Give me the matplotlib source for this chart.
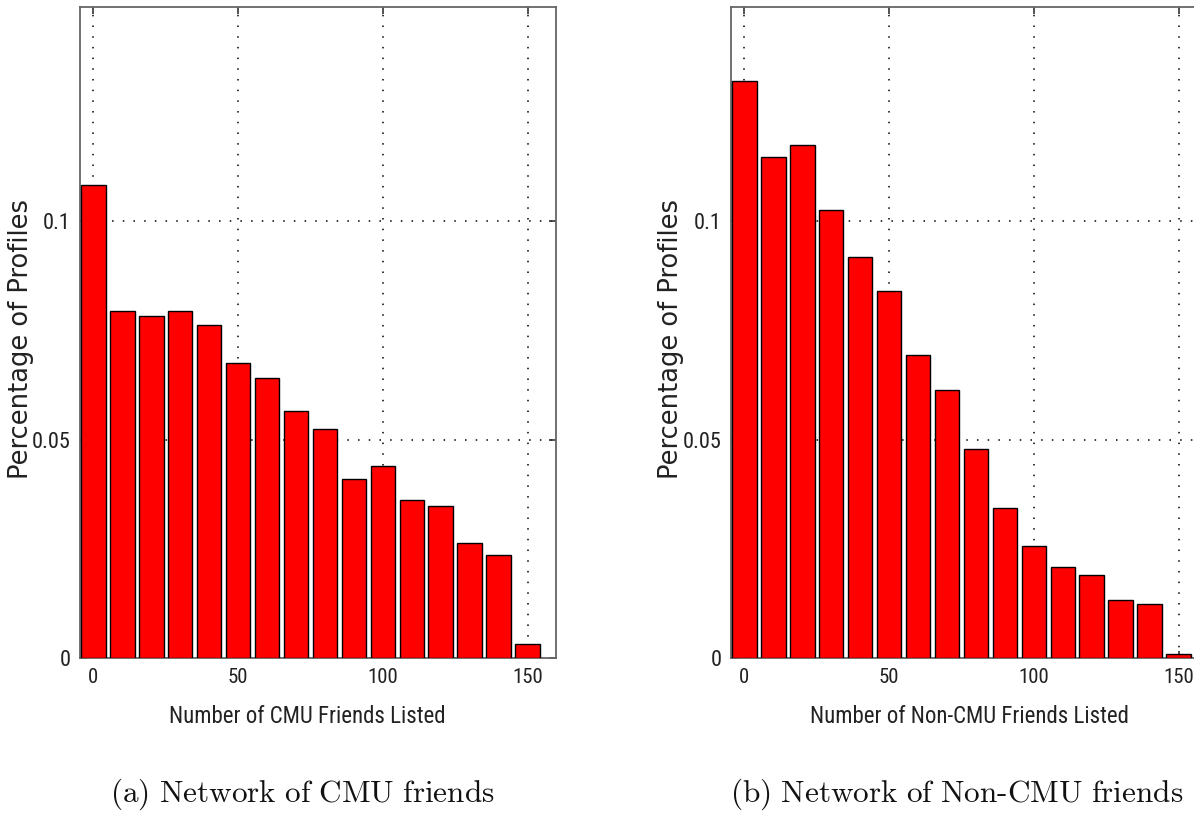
import matplotlib
matplotlib.use("Agg")
import matplotlib.pyplot as plt
from matplotlib import font_manager

# ---- data ----
bins = [0, 10, 20, 30, 40, 50, 60, 70, 80, 90, 100, 110, 120, 130, 140, 150]
cmu_pct = [0.1082, 0.0794, 0.0783, 0.0794, 0.0762, 0.0675, 0.0641, 0.0565,
           0.0524, 0.0410, 0.0439, 0.0362, 0.0348, 0.0263, 0.0236, 0.0032]
noncmu_pct = [0.1320, 0.1146, 0.1174, 0.1025, 0.0918, 0.0840, 0.0693, 0.0613,
              0.0478, 0.0343, 0.0256, 0.0208, 0.0190, 0.0133, 0.0124, 0.0010]
xticks = [0, 50, 100, 150]
yticks = [0, 0.05, 0.1]
ytick_labels = ["0", "0.05", "0.1"]
xlabels = ["Number of CMU Friends Listed", "Number of Non-CMU Friends Listed"]
ylabel = "Percentage of Profiles"
captions = [r"$\mathrm{(a)\ Network\ of\ CMU\ friends}$",
            r"$\mathrm{(b)\ Network\ of\ Non\text{-}CMU\ friends}$"]

plt.rcParams['mathtext.fontset'] = 'cm'

available = {f.name for f in font_manager.fontManager.ttflist}
narrow_name = None
for cand in ['Liberation Sans Narrow', 'Roboto Condensed', 'DejaVu Sans Condensed',
             'Open Sans Condensed', 'Noto Sans Condensed']:
    if cand in available:
        narrow_name = cand
        break
if narrow_name is not None:
    narrow = [narrow_name, 'DejaVu Sans']
    ytick_fs, xtick_fs, xlab_fs = 16, 15, 16.5
else:
    narrow = ['Liberation Sans', 'DejaVu Sans']
    ytick_fs, xtick_fs, xlab_fs = 14, 13, 14

W, H = 1194, 821
fig = plt.figure(figsize=(W / 100, H / 100), dpi=100)

def px(x0, y0, x1, y1):
    return [x0 / W, 1 - y1 / H, (x1 - x0) / W, (y1 - y0) / H]

axes_px = [(80, 7, 556, 658), (731, 7, 1207, 658)]
series = [cmu_pct, noncmu_pct]
xlabel_cx = [307, 969]
ylabel_cx = [21, 671]
caption_cx = [302, 957]

for i in range(2):
    ax = fig.add_axes(px(*axes_px[i]))
    ax.bar(bins, series[i], width=8.5, color='#ff0000', edgecolor='black',
           linewidth=1.0, zorder=3)
    ax.set_xlim(-4.6, 159.8)
    ax.set_ylim(0, 0.149)
    ax.set_xticks(xticks)
    ax.set_yticks(yticks)
    ax.set_yticklabels(ytick_labels)
    ax.set_axisbelow(True)
    ax.grid(True, linestyle=(0, (1, 6)), color='black', linewidth=1.1)
    ax.tick_params(direction='in', length=5, width=1.2, top=True, right=True,
                   color='#333333', labelcolor='#222222', pad=7)
    for lab in ax.get_xticklabels():
        lab.set_family(narrow)
        lab.set_fontsize(xtick_fs)
    for lab in ax.get_yticklabels():
        lab.set_family(narrow)
        lab.set_fontsize(ytick_fs)
    for sp in ax.spines.values():
        sp.set_color('#666666')
        sp.set_linewidth(1.3)
    fig.text(xlabel_cx[i] / W, 1 - 716 / H, xlabels[i], ha='center', va='center',
             family=narrow, fontsize=xlab_fs, color='#222222')
    fig.text(ylabel_cx[i] / W, 1 - 339 / H, ylabel, ha='center', va='center',
             rotation=90, family=['DejaVu Sans'], fontsize=18.5, color='#222222')
    fig.text(caption_cx[i] / W, 1 - 794 / H, captions[i], ha='center', va='center',
             fontsize=22.5, color='#111111')

fig.savefig('out.png', dpi=100)
